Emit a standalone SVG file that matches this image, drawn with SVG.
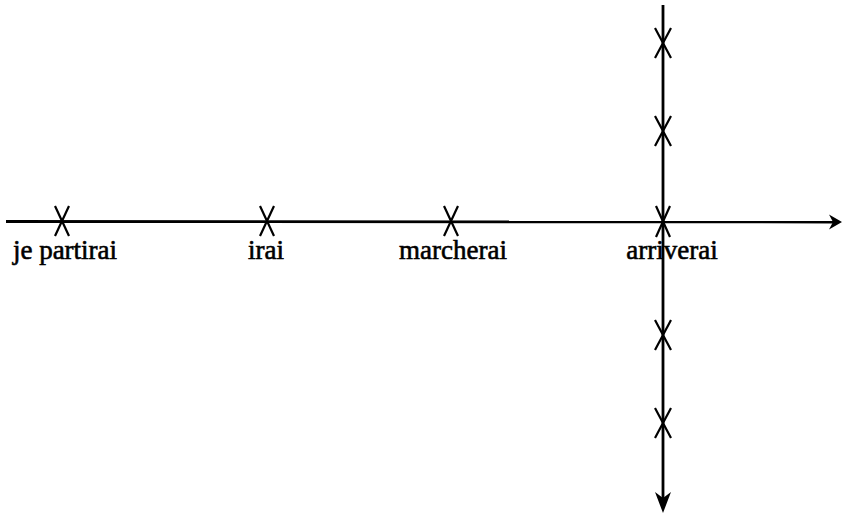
<svg xmlns="http://www.w3.org/2000/svg" width="843" height="513" viewBox="0 0 843 513">
<style>
.ax{stroke:#000;stroke-width:2.8;fill:none}
.x{stroke:#000;stroke-width:2.2;fill:none}
.lbl{font-family:"Liberation Serif","Times New Roman",serif;font-size:27px;fill:#000;stroke:#000;stroke-width:0.6;text-anchor:middle}
</style>
<rect width="843" height="513" fill="#fff"/>
<g id="connectors">
<line class="ax" x1="6" y1="221.5" x2="836" y2="222"/>
<path d="M842,222 L829,214.5 L833,222 L829,229.5 Z" fill="#000"/>
<line class="ax" x1="663" y1="5" x2="663" y2="500"/>
<path d="M663,513 L655,492 L663,498 L671,492 Z" fill="#000"/>
</g>
<g id="node-je-partirai">
<path class="x" d="M55,206 L69,236 M69,206 L55,236"/>
<text class="lbl" x="65" y="259">je partirai</text>
</g>
<g id="node-irai">
<path class="x" d="M260,206 L274,236 M274,206 L260,236"/>
<text class="lbl" x="266" y="259">irai</text>
</g>
<g id="node-marcherai">
<path class="x" d="M444,206 L458,236 M458,206 L444,236"/>
<text class="lbl" x="453" y="259">marcherai</text>
</g>
<g id="node-arriverai">
<path class="x" d="M656,206 L670,237 M670,206 L656,237"/>
<text class="lbl" x="672" y="259">arriverai</text>
</g>
<g id="node-v1"><path class="x" d="M655,28 L671,58 M671,28 L655,58"/></g>
<g id="node-v2"><path class="x" d="M655,116 L671,146 M671,116 L655,146"/></g>
<g id="node-v3"><path class="x" d="M655,320 L671,350 M671,320 L655,350"/></g>
<g id="node-v4"><path class="x" d="M655,408 L671,438 M671,408 L655,438"/></g>
</svg>
